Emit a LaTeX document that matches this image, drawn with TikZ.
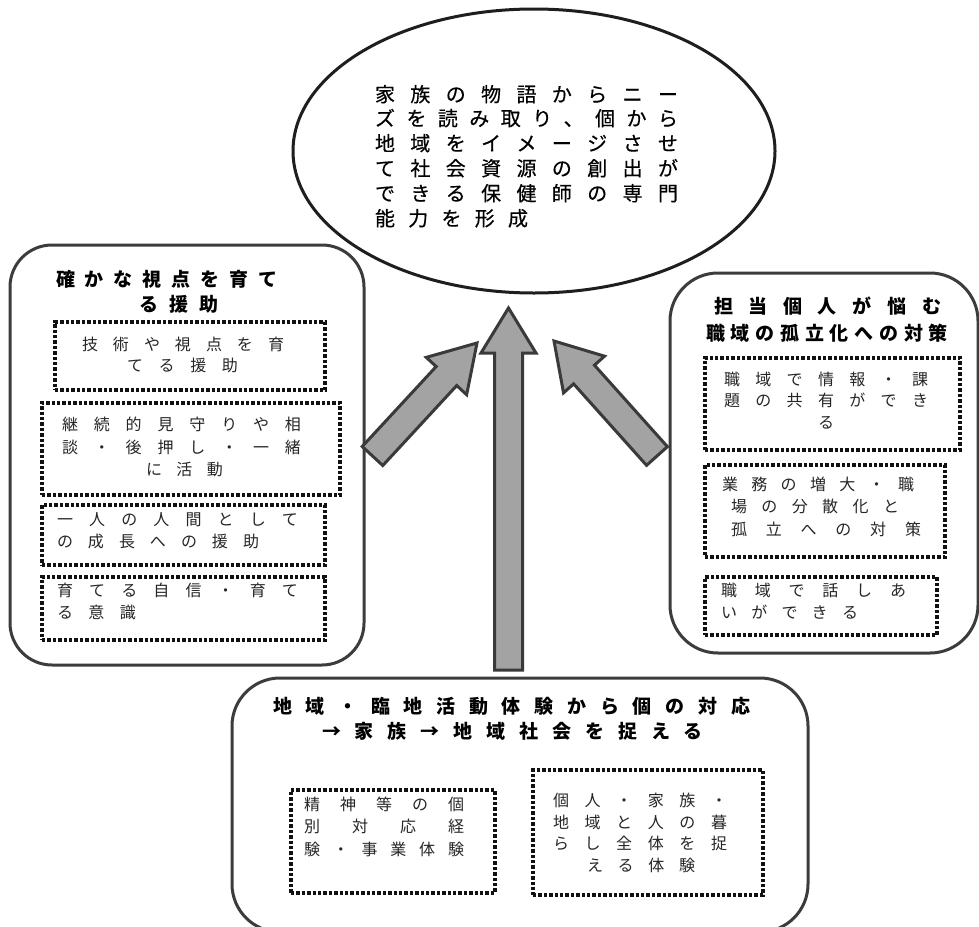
\documentclass[tikz,border=0pt]{standalone}
\usepackage{fontspec}
\setmainfont{Noto Sans CJK JP}
\newfontfamily\medfont[FakeBold=0.4]{Noto Sans CJK JP}
\usetikzlibrary{shapes.geometric,calc}
\definecolor{boxline}{HTML}{3C3C3C}
\definecolor{ellline}{HTML}{1E1E1E}
\definecolor{arrfill}{HTML}{A3A3A3}
\definecolor{arrline}{HTML}{3A3A3A}
\definecolor{dotc}{HTML}{111111}
\definecolor{inner}{HTML}{262626}
\def\gobbleone#1{}
\def\sprA#1#2{#1\ifx\relax#2\expandafter\gobbleone\else\hfill\expandafter\sprA\fi#2}
\newcommand\dl[2]{\makebox[#1pt][l]{\sprA#2\relax\relax}}
\newcommand\tline[6]{\pgfmathsetmacro\tlw{#3-#2+2}\node[txt,#5] (#1) at (#2-1,#4) {\dl{\tlw}{#6}};}
\newcommand\dbox[5]{\node[dotbox, minimum width={#4-#2}, minimum height={#5-#3}] (#1) at ({(#2+#4)/2},{(#3+#5)/2}) {};}
\newcommand\blockarrow[2]{%
  \path let \p1=(#1), \p2=(#2) in \pgfextra{%
    \pgfmathsetmacro\baAng{atan2(\y2-\y1,\x2-\x1)}%
    \pgfmathsetmacro\baLen{veclen(\x2-\x1,\y2-\y1)}%
    \xdef\baX{\x1}\xdef\baY{\y1}\global\let\baAng\baAng\global\let\baLen\baLen};
  \draw[barrow, shift={(\baX,\baY)}, rotate=\baAng] (0,-14) -- (\baLen-45,-14) -- (\baLen-45,-27.5) -- (\baLen,0) -- (\baLen-45,27.5) -- (\baLen-45,14) -- (0,14) -- cycle;
}
\begin{document}
\begin{tikzpicture}[x=1pt,y=-1pt,
  txt/.style={anchor=west, inner sep=0pt, outer sep=0pt, text height=0.85em, text depth=0.09em},
  ell/.style={font=\fontsize{20}{24}\medfont, text=black},
  ttl/.style={font=\fontsize{19}{23}\bfseries, text=black},
  body/.style={font=\fontsize{16}{20}\selectfont, text=inner},
  dotbox/.style={draw=dotc, line width=3.4pt, dash pattern=on 3.4pt off 2pt, inner sep=0pt, outer sep=0pt},
  roundbox/.style={draw=boxline, line width=3pt, inner sep=0pt, outer sep=0pt},
  barrow/.style={draw=arrline, fill=arrfill, line width=3pt, line join=miter}
]
\useasboundingbox (0,0) rectangle (979,926);
\clip (0,0) rectangle (979,926);
\fill[white] (0,0) rectangle (979,926);

% goal ellipse
\node[draw=ellline, line width=3pt, ellipse, minimum width=482, minimum height=284, inner sep=0pt] (goal) at (534,151) {};
\tline{e1}{376}{677}{98}{ell}{家族の物語からニー}
\tline{e2}{376}{677}{122}{ell}{ズを読み取り、個から}
\tline{e3}{376}{677}{147}{ell}{地域をイメージさせ}
\tline{e4}{376}{677}{172}{ell}{て社会資源の創出が}
\tline{e5}{376}{677}{197}{ell}{できる保健師の専門}
\tline{e6}{376}{527}{222}{ell}{能力を形成}

% left box
\node[roundbox, rounded corners=42pt, minimum width=354, minimum height=420] (lbox) at (187,455) {};
\tline{lt1}{57}{277}{283}{ttl}{確かな視点を育て}
\tline{lt2}{140}{218}{308}{ttl}{る援助}
\dbox{ld1}{55}{322}{325}{390}
\tline{ld1a}{83}{283}{347}{body}{技術や視点を育}
\tline{ld1b}{128}{237}{368}{body}{てる援助}
\dbox{ld2}{42}{403}{340}{495}
\tline{ld2a}{63}{300}{427}{body}{継続的見守りや相}
\tline{ld2b}{63}{300}{450}{body}{談・後押し・一緒}
\tline{ld2c}{147}{222}{472}{body}{に活動}
\dbox{ld3}{42}{505}{325}{565}
\tline{ld3a}{58}{297}{522}{body}{一人の人間として}
\tline{ld3b}{58}{258}{544}{body}{の成長への援助}
\dbox{ld4}{42}{577}{325}{640}
\tline{ld4a}{58}{297}{593}{body}{育てる自信・育て}
\tline{ld4b}{58}{135}{615}{body}{る意識}

% right box
\node[roundbox, rounded corners=48pt, minimum width=308, minimum height=380] (rbox) at (824,463) {};
\tline{rt1}{715}{940}{310}{ttl}{担当個人が悩む}
\tline{rt2}{707}{947}{337}{ttl}{職域の孤立化への対策}
\dbox{rd1}{705}{358}{960}{450}
\tline{rd1a}{725}{927}{382}{body}{職域で情報・課}
\tline{rd1b}{725}{927}{403}{body}{題の共有ができ}
\tline{rd1c}{819}{835}{425}{body}{る}
\dbox{rd2}{705}{465}{945}{557}
\tline{rd2a}{723}{913}{487}{body}{業務の増大・職}
\tline{rd2b}{732}{898}{509}{body}{場の分散化と}
\tline{rd2c}{732}{920}{532}{body}{孤立への対策}
\dbox{rd3}{705}{577}{937}{635}
\tline{rd3a}{722}{905}{593}{body}{職域で話しあ}
\tline{rd3b}{722}{857}{615}{body}{いができる}

% bottom box
\node[roundbox, rounded corners=48pt, minimum width=576, minimum height=254] (bbox) at (520,805) {};
\tline{bt1}{274}{749}{710}{ttl}{地域・臨地活動体験から個の対応}
\tline{bt2}{323}{702}{735}{ttl}{→家族→地域社会を捉える}
\dbox{bd1}{291}{790}{495}{893}
\tline{bd1a}{305}{463}{807}{body}{精神等の個}
\tline{bd1b}{305}{463}{829}{body}{別対応経}
\tline{bd1c}{305}{463}{852}{body}{験・事業体験}
\dbox{bd2}{533}{770}{763}{895}
\tline{bd2a}{554}{726}{803}{body}{個人・家族・}
\tline{bd2b}{554}{726}{825}{body}{地域と人の暮}
\tline{bd2c}{554}{726}{846}{body}{らし全体を捉}
\tline{bd2d}{588}{694}{868}{body}{える体験}

% arrows
\coordinate (la-tail) at (372.5,456);
\coordinate (la-tip) at (477,343);
\coordinate (ra-tail) at (657,456);
\coordinate (ra-tip) at (554,341);
\coordinate (ca-tail) at (508.5,670);
\coordinate (ca-tip) at (508.5,308);
\blockarrow{la-tail}{la-tip}
\blockarrow{ra-tail}{ra-tip}
\blockarrow{ca-tail}{ca-tip}
\end{tikzpicture}
\end{document}
